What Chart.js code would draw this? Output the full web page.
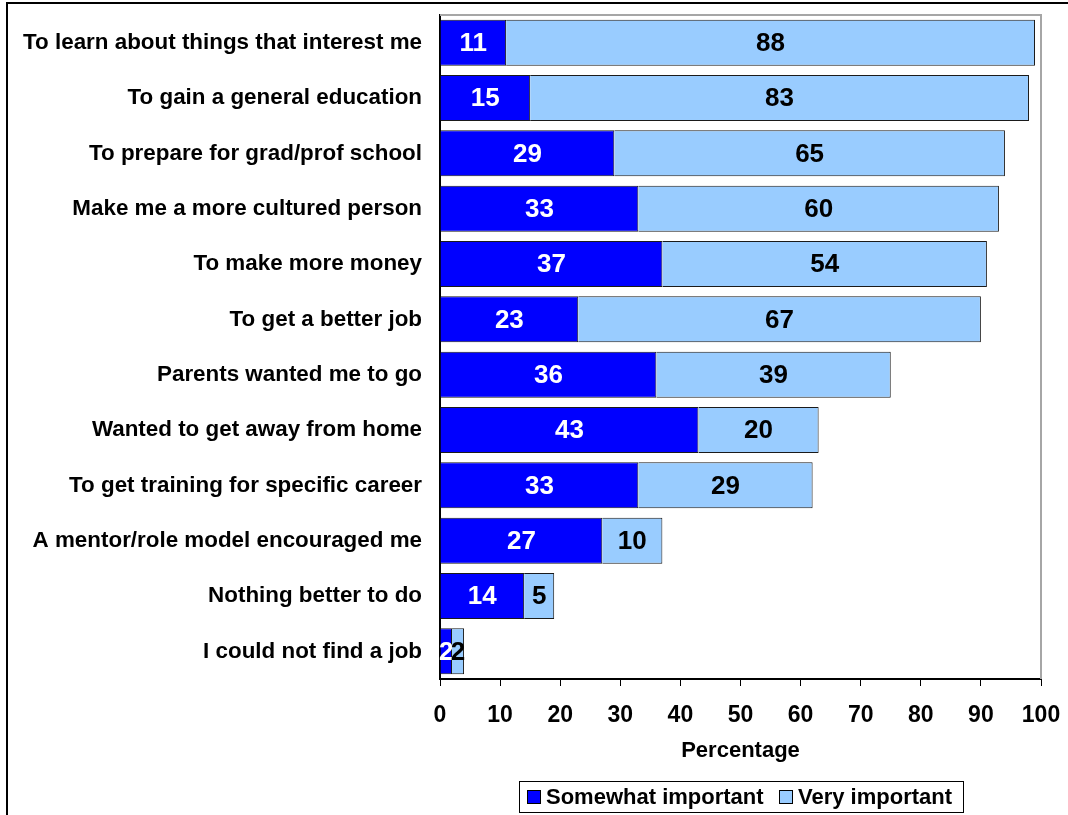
<!DOCTYPE html>
<html>
<head>
<meta charset="utf-8">
<script src="https://cdn.jsdelivr.net/npm/chart.js@4"></script>
<style>
  html, body { margin: 0; padding: 0; background: #fff; }
  #wrap { width: 1068px; height: 815px; position: relative; }
</style>
</head>
<body>
<div id="wrap"><canvas id="chart" width="1068" height="815"></canvas></div>
<script>
// reasons for going to college, percent of respondents
const reasons = [
  'To learn about things that interest me',
  'To gain a general education',
  'To prepare for grad/prof school',
  'Make me a more cultured person',
  'To make more money',
  'To get a better job',
  'Parents wanted me to go',
  'Wanted to get away from home',
  'To get training for specific career',
  'A mentor/role model encouraged me',
  'Nothing better to do',
  'I could not find a job'
]
const somewhatImportant = [11, 15, 29, 33, 37, 23, 36, 43, 33, 27, 14, 2]
const veryImportant = [88, 83, 65, 60, 54, 67, 39, 20, 29, 10, 5, 2]
const xTicks = [0, 10, 20, 30, 40, 50, 60, 70, 80, 90, 100]

const FONT = '"Liberation Sans", Arial, sans-serif'
const labelColors = ['#ffffff', '#000000']   /* value text colour per series */
const legendBoxX = [527, 779]   /* left edge of each legend swatch */

// frame, plot border, value labels and boxed legend
const decorations = {
  id: 'decorations',
  beforeDraw(chart) {
    const ctx = chart.ctx
    ctx.save()
    ctx.strokeStyle = '#000'
    ctx.lineWidth = 2
    ctx.beginPath()
    ctx.moveTo(7, 815)
    ctx.lineTo(7, 3)
    ctx.lineTo(1068, 3)
    ctx.stroke()
    ctx.restore()
  },
  beforeDatasetsDraw(chart) {
    const { ctx, chartArea } = chart
    ctx.save()
    ctx.strokeStyle = '#a6a6a6'
    ctx.lineWidth = 2
    ctx.beginPath()
    ctx.moveTo(chartArea.left, chartArea.top)
    ctx.lineTo(chartArea.right, chartArea.top)
    ctx.lineTo(chartArea.right, chartArea.bottom)
    ctx.stroke()
    ctx.restore()
  },
  afterDatasetsDraw(chart) {
    const ctx = chart.ctx
    ctx.save()
    ctx.font = `bold 26px ${FONT}`
    ctx.textAlign = 'center'
    ctx.textBaseline = 'middle'
    chart.data.datasets.forEach((ds, i) => {
      ctx.fillStyle = labelColors[i]
      chart.getDatasetMeta(i).data.forEach((bar, j) => {
        ctx.fillText(String(ds.data[j]), (bar.x + bar.base) / 2, bar.y + 1)
      })
    })
    ctx.restore()
  },
  afterDraw(chart) {
    const ctx = chart.ctx
    ctx.save()
    // legend frame
    ctx.strokeStyle = '#000'
    ctx.lineWidth = 1
    ctx.strokeRect(519.5, 781.5, 444, 31)
    ctx.font = `bold 22px ${FONT}`
    ctx.textBaseline = 'middle'
    ctx.textAlign = 'left'
    chart.data.datasets.forEach((ds, i) => {
      const x = legendBoxX[i]
      ctx.fillStyle = ds.backgroundColor
      ctx.fillRect(x, 790, 14, 14)
      ctx.strokeRect(x + 0.5, 790.5, 13, 13)
      ctx.fillStyle = '#000'
      ctx.fillText(ds.label, x + 19, 798)
    })
    ctx.restore()
  }
}

new Chart(document.getElementById('chart'), {
  type: 'bar',
  data: {
    labels: reasons,
    datasets: [
      {
        label: 'Somewhat important',
        data: somewhatImportant,
        backgroundColor: '#0000ff',
        borderColor: '#1a1a1a',
        borderWidth: 1,
        barPercentage: 0.83,
        categoryPercentage: 1
      },
      {
        label: 'Very important',
        data: veryImportant,
        backgroundColor: '#99ccff',
        borderColor: '#1a1a1a',
        borderWidth: 1,
        barPercentage: 0.83,
        categoryPercentage: 1
      }
    ]
  },
  options: {
    indexAxis: 'y',
    responsive: false,
    animation: false,
    layout: { padding: { top: 15, right: 27, left: 0, bottom: 50 } },
    plugins: {
      legend: { display: false },
      tooltip: { enabled: false }
    },
    scales: {
      x: {
        stacked: true,
        min: 0,
        max: 100,
        afterBuildTicks: (scale) => { scale.ticks = xTicks.map(v => ({ value: v })) },
        afterFit: (scale) => {
          scale.height = 86
          scale.paddingLeft = 0   /* keep tick label overhang out of the layout */
          scale.paddingRight = 0
        },
        grid: { drawOnChartArea: false, tickLength: 7, color: '#000' },
        border: { color: '#000', width: 2 },
        ticks: {
          color: '#000',
          padding: 16,
          maxRotation: 0,
          font: { family: FONT, size: 23, weight: 'bold' }
        },
        title: {
          display: true,
          text: 'Percentage',
          color: '#000',
          padding: { top: 0, bottom: 1 },
          font: { family: FONT, size: 22, weight: 'bold' }
        }
      },
      y: {
        stacked: true,
        afterFit: (scale) => {
          scale.width = 440
          scale.paddingTop = 0
          scale.paddingBottom = 0
        },
        grid: { display: false },
        border: { color: '#000', width: 2 },
        ticks: {
          color: '#000',
          padding: 10,
          autoSkip: false,
          font: { family: FONT, size: 22.4, weight: 'bold' }
        }
      }
    }
  },
  plugins: [decorations]
})
</script>
</body>
</html>
